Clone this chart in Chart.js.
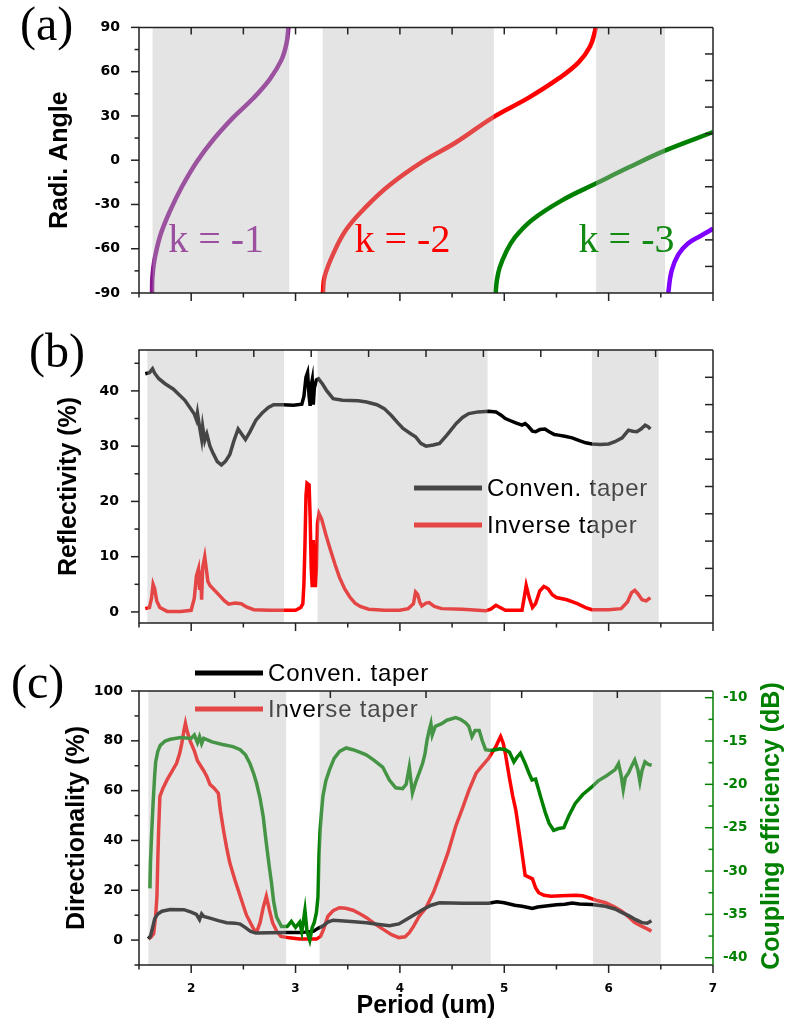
<!DOCTYPE html>
<html>
<head>
<meta charset="utf-8">
<script src="https://cdn.jsdelivr.net/npm/chart.js@4.4.0/dist/chart.umd.min.js"></script>
<style>
  body { margin: 0; background: #fff; }
  #wrap { position: relative; width: 787px; height: 1022px; }
  #wrap canvas { position: absolute; left: 0; top: 0; }
</style>
</head>
<body>
<div id="wrap">
  <canvas id="chartA" width="787" height="1022"></canvas>
  <canvas id="chartB" width="787" height="1022"></canvas>
  <canvas id="chartC" width="787" height="1022"></canvas>
</div>
<script>
// (a) radiation angle vs period, one branch per diffraction order  [period, angle]
const kMinus1 = [[1.625,-90],[1.628,-80],[1.647,-68],[1.704,-51],[1.80,-34],[1.911,-18],[2.054,-1],[2.213,14],[2.404,29],[2.595,42],[2.754,55],[2.865,68],[2.913,79],[2.932,90]];
const kMinus2 = [[3.262,-90],[3.278,-79],[3.358,-64],[3.486,-47],[3.677,-31.5],[3.899,-17],[4.217,-1],[4.535,12],[4.90,29.4],[5.235,42.4],[5.521,55.4],[5.712,66.3],[5.823,77.2],[5.871,88],[5.875,90]];
const kMinus3 = [[4.917,-90],[4.93,-81],[4.955,-73],[5.012,-63],[5.10,-52.5],[5.266,-40.5],[5.553,-27.2],[5.887,-15.5],[6.189,-5],[6.539,6.5],[7.0,19]];
const kMinus4 = [[6.571,-90],[6.603,-75],[6.667,-64],[6.76,-56.5],[6.888,-51],[7.0,-46.5]];

// (b) reflectivity (%)  [period, value]
const reflConven = [[1.56,43.1],[1.60,43.3],[1.63,44.0],[1.65,43.2],[1.69,42.2],[1.75,41.3],[1.83,40.3],[1.94,38.3],[2.03,35.8],[2.05,34.8],[2.06,36.0],[2.08,33.5],[2.10,31.3],[2.11,33.5],[2.13,31.0],[2.15,32.2],[2.18,30.0],[2.21,28.7],[2.25,27.2],[2.29,26.6],[2.33,27.3],[2.37,28.5],[2.41,31.0],[2.45,33.1],[2.49,32.0],[2.52,31.2],[2.56,32.5],[2.62,34.7],[2.68,36.0],[2.74,37.0],[2.79,37.5],[2.88,37.5],[2.98,37.4],[3.06,37.6],[3.08,39.0],[3.10,42.5],[3.115,43.3],[3.13,39.0],[3.14,37.3],[3.15,41.0],[3.16,42.0],[3.17,37.5],[3.18,40.5],[3.20,42.0],[3.22,42.2],[3.26,41.2],[3.30,40.0],[3.36,38.6],[3.45,38.3],[3.6,38.2],[3.68,38.0],[3.78,37.5],[3.85,36.8],[3.92,35.5],[3.98,34.2],[4.03,33.2],[4.10,32.3],[4.15,31.7],[4.20,30.5],[4.25,30.0],[4.32,30.2],[4.38,30.5],[4.45,32.0],[4.54,34.1],[4.60,35.2],[4.66,35.9],[4.75,36.2],[4.85,36.3],[4.92,36.2],[4.97,35.6],[5.01,35.0],[5.06,34.6],[5.11,34.2],[5.17,33.8],[5.20,34.1],[5.23,33.6],[5.27,32.7],[5.30,32.6],[5.34,33.0],[5.39,33.1],[5.43,32.6],[5.48,32.1],[5.52,32.0],[5.58,31.8],[5.65,31.5],[5.72,31.0],[5.78,30.6],[5.84,30.4],[5.92,30.3],[6.0,30.4],[6.06,30.8],[6.13,31.5],[6.19,32.9],[6.23,32.7],[6.27,32.6],[6.31,33.1],[6.35,33.8],[6.38,33.5],[6.40,33.1]];
const reflInverse = [[1.56,0.6],[1.60,0.8],[1.62,2.5],[1.635,5.0],[1.65,4.2],[1.67,2.0],[1.70,0.8],[1.77,0.1],[1.9,0.1],[2.0,0.3],[2.03,2.5],[2.05,6.5],[2.07,7.8],[2.08,4.0],[2.09,7.5],[2.10,2.2],[2.11,8.0],[2.13,10.0],[2.15,7.0],[2.16,5.5],[2.18,4.8],[2.22,4.0],[2.27,3.0],[2.32,2.0],[2.36,1.4],[2.42,1.6],[2.48,1.5],[2.53,0.9],[2.6,0.4],[2.75,0.3],[2.9,0.3],[3.0,0.3],[3.05,0.8],[3.07,1.5],[3.08,5.0],[3.09,12],[3.10,21],[3.11,23.3],[3.13,23.0],[3.14,17],[3.15,8],[3.16,4.5],[3.17,13],[3.18,6],[3.19,4.5],[3.20,8],[3.21,16],[3.225,17.8],[3.25,16.8],[3.29,14],[3.33,11.5],[3.38,8.5],[3.42,6.3],[3.47,4.2],[3.52,2.7],[3.57,1.6],[3.62,1.0],[3.7,0.5],[3.85,0.3],[4.0,0.3],[4.08,0.6],[4.13,1.5],[4.15,3.6],[4.17,3.2],[4.19,1.8],[4.21,1.1],[4.25,1.6],[4.28,1.7],[4.33,1.0],[4.4,0.6],[4.6,0.5],[4.82,0.2],[4.87,0.5],[4.92,1.2],[4.96,0.8],[5.01,0.3],[5.17,0.3],[5.19,2.5],[5.21,4.8],[5.24,2.5],[5.27,0.8],[5.30,1.5],[5.34,3.8],[5.38,4.6],[5.42,4.2],[5.46,3.1],[5.5,2.6],[5.6,2.2],[5.7,1.5],[5.78,0.8],[5.84,0.4],[6.0,0.4],[6.12,0.6],[6.18,1.8],[6.22,3.5],[6.25,3.9],[6.28,3.3],[6.32,2.2],[6.36,2.0],[6.40,2.6]];

// (c) directionality (%) and coupling efficiency (dB)  [period, value]
const dirConven = [[1.59,0.5],[1.61,1.6],[1.63,5],[1.65,8.5],[1.68,10.5],[1.72,11.6],[1.8,12.3],[1.93,12.2],[2.0,11.2],[2.05,10.3],[2.08,8.2],[2.1,10.5],[2.12,9.5],[2.18,8.8],[2.26,7.8],[2.34,7.0],[2.42,6.8],[2.47,6.4],[2.52,5.0],[2.57,3.5],[2.62,2.8],[2.75,2.9],[2.91,3.0],[3.04,3.0],[3.17,3.5],[3.22,4.8],[3.26,5.6],[3.31,7.2],[3.36,8.0],[3.5,7.6],[3.68,7.0],[3.8,6.3],[3.9,5.8],[3.99,6.5],[4.09,9.0],[4.22,12.3],[4.30,14.0],[4.38,15.0],[4.6,14.8],[4.85,14.8],[4.93,15.4],[5.0,15.0],[5.1,14.0],[5.17,13.6],[5.24,13.0],[5.27,12.7],[5.32,13.3],[5.42,13.8],[5.5,14.2],[5.58,14.4],[5.65,14.9],[5.72,14.5],[5.84,14.3],[5.97,13.6],[6.06,12.5],[6.13,11.0],[6.2,9.6],[6.26,8.2],[6.32,7.0],[6.37,6.8],[6.41,7.8]];
const dirInverse = [[1.59,0.5],[1.61,1.0],[1.64,2.5],[1.66,10],[1.672,17.6],[1.68,32],[1.688,44],[1.70,57.7],[1.73,61],[1.77,64.4],[1.82,68],[1.86,71],[1.89,75],[1.91,79],[1.93,84],[1.945,87],[1.96,84],[1.99,80],[2.03,76],[2.06,72],[2.09,70],[2.12,68],[2.15,65.7],[2.18,62.5],[2.22,61],[2.26,59],[2.28,52],[2.31,44],[2.34,37],[2.37,31],[2.42,24],[2.47,17.6],[2.53,10],[2.6,4.3],[2.63,3.5],[2.66,7],[2.69,13],[2.72,17.6],[2.75,12],[2.78,7],[2.82,3.5],[2.86,1.5],[2.94,0.9],[3.04,0.4],[3.2,0.4],[3.24,1.5],[3.27,4.5],[3.31,9.6],[3.36,11.8],[3.42,13.0],[3.48,12.8],[3.55,12.0],[3.62,10.5],[3.68,9.0],[3.76,6.5],[3.84,4.3],[3.92,2.2],[3.99,1.0],[4.05,1.3],[4.09,3.0],[4.13,5.5],[4.185,9.6],[4.25,13],[4.32,19],[4.38,25.6],[4.46,35],[4.535,45.7],[4.6,53],[4.66,60],[4.73,67],[4.79,70],[4.85,73],[4.92,77.7],[4.945,80],[4.965,81.7],[4.99,79],[5.01,75],[5.05,65],[5.08,58],[5.11,52.3],[5.15,41],[5.18,32],[5.2,26],[5.24,25.2],[5.27,24.6],[5.30,21],[5.33,19],[5.38,18],[5.45,17.6],[5.55,17.8],[5.68,18],[5.75,17.8],[5.81,17],[5.88,16],[5.97,15],[6.05,13.5],[6.125,11.6],[6.2,9],[6.25,7],[6.32,5.5],[6.37,4.5],[6.41,3.6]];
const couplingDb = [[1.605,-32],[1.61,-29],[1.62,-26],[1.635,-22.2],[1.65,-19],[1.66,-17.4],[1.68,-16.2],[1.704,-15.5],[1.75,-15.0],[1.8,-14.8],[1.9,-14.6],[2.0,-14.7],[2.03,-14.3],[2.06,-15.2],[2.08,-14.5],[2.1,-15.3],[2.12,-14.7],[2.2,-15.1],[2.3,-15.4],[2.4,-15.65],[2.47,-16.0],[2.52,-16.6],[2.563,-17.6],[2.6,-18.8],[2.627,-19.9],[2.66,-21.6],[2.69,-23.7],[2.72,-26.8],[2.745,-29.2],[2.77,-31.4],[2.79,-33.5],[2.818,-35.3],[2.865,-36.4],[2.92,-36.4],[2.96,-35.8],[3.0,-36.5],[3.04,-35.9],[3.06,-37.0],[3.09,-34.5],[3.11,-37.0],[3.136,-38.0],[3.16,-36.5],[3.18,-35.9],[3.2,-34.8],[3.215,-33.0],[3.225,-28],[3.235,-25.3],[3.25,-23],[3.262,-21.4],[3.29,-19.6],[3.326,-18.3],[3.37,-17.0],[3.422,-16.2],[3.485,-15.8],[3.55,-16.0],[3.62,-16.3],[3.677,-16.6],[3.75,-17.2],[3.835,-18.0],[3.899,-19.5],[3.96,-20.4],[4.026,-20.5],[4.06,-20.0],[4.09,-18.0],[4.11,-20.0],[4.12,-21.0],[4.15,-19.8],[4.19,-18.5],[4.217,-17.6],[4.24,-16.5],[4.26,-14.9],[4.28,-13.8],[4.297,-13.0],[4.31,-14.3],[4.34,-13.3],[4.4,-13.0],[4.45,-12.6],[4.535,-12.3],[4.58,-12.5],[4.63,-12.9],[4.66,-13.3],[4.69,-14.5],[4.72,-13.8],[4.76,-13.8],[4.79,-15.0],[4.821,-16.0],[4.87,-16.1],[4.917,-16.0],[4.96,-15.9],[5.01,-16.0],[5.05,-16.3],[5.092,-17.4],[5.12,-16.9],[5.155,-16.4],[5.2,-17.6],[5.24,-18.8],[5.266,-19.5],[5.3,-19.4],[5.35,-21.5],[5.394,-23.3],[5.43,-24.5],[5.473,-25.3],[5.52,-25.1],[5.57,-25.0],[5.62,-23.6],[5.68,-22.2],[5.75,-21.2],[5.839,-20.3],[5.9,-19.6],[5.98,-19.0],[6.062,-18.3],[6.095,-17.6],[6.12,-19.0],[6.14,-20.6],[6.16,-19.2],[6.19,-18.7],[6.22,-17.9],[6.25,-17.2],[6.28,-18.3],[6.3,-19.7],[6.32,-18.4],[6.348,-17.4],[6.38,-17.7],[6.412,-17.8]];

// shaded period ranges in each panel  [from, to]
const bandsA = [[1.63,2.94],[3.26,4.90],[5.88,6.54]];
const bandsB = [[1.58,2.89],[3.21,4.84],[5.84,6.48]];
const bandsC = [[1.59,2.91],[3.23,4.87],[5.85,6.50]];

const TICK_FONT = { family: "DejaVu Sans", weight: "bold", size: 14 };
const TITLE_FONT = { family: "Liberation Sans", weight: "bold", size: 25 };
const OVERLAY = "rgba(184,184,184,0.38)";
const AXIS = "#222";
const GREEN = "#008000";

const toXY = pts => pts.map(([x, y]) => ({ x, y }));

// one decoration plugin per chart: legend, grey bands over the data, frame, tick marks, labels
const decor = cfg => ({
  id: "decor",
  afterDatasetsDraw(chart) {
    const { ctx, chartArea: a } = chart;
    const xs = chart.scales.x;
    if (cfg.legend) {
      ctx.save();
      ctx.font = "24px 'Liberation Sans'";
      ctx.letterSpacing = "0.8px";
      ctx.textBaseline = "middle";
      cfg.legend.items.forEach((idx, i) => {
        const ds = chart.data.datasets[idx];
        const y = cfg.legend.y + i * cfg.legend.gap;
        ctx.strokeStyle = ds.borderColor;
        ctx.lineWidth = 5;
        ctx.beginPath();
        ctx.moveTo(cfg.legend.x, y);
        ctx.lineTo(cfg.legend.x + 68, y);
        ctx.stroke();
        ctx.fillStyle = "#000";
        ctx.fillText(ds.label, cfg.legend.x + 73, y + 1);
      });
      ctx.restore();
    }
    ctx.save();
    ctx.beginPath();
    ctx.rect(a.left, a.top, a.right - a.left, a.bottom - a.top);
    ctx.clip();
    ctx.fillStyle = OVERLAY;
    cfg.bands.forEach(([from, to]) => {
      const x0 = xs.getPixelForValue(from), x1 = xs.getPixelForValue(to);
      ctx.fillRect(x0, a.top, x1 - x0, a.bottom - a.top + 2);
    });
    ctx.restore();
  },
  afterDraw(chart) {
    const { ctx, chartArea: a, scales } = chart;
    ctx.save();
    ctx.lineWidth = 1.5;
    ctx.strokeStyle = AXIS;
    ctx.beginPath();
    ctx.moveTo(a.right, a.top); ctx.lineTo(a.left, a.top);
    ctx.lineTo(a.left, a.bottom); ctx.lineTo(a.right, a.bottom);
    ctx.stroke();
    ctx.strokeStyle = cfg.rightColor || AXIS;
    ctx.beginPath(); ctx.moveTo(a.right, a.top); ctx.lineTo(a.right, a.bottom); ctx.stroke();

    const mark = (scale, side, color) => {
      ctx.strokeStyle = color;
      scale.ticks.forEach(t => {
        const len = t.label !== "" ? 8 : 4.5;
        const p = scale.getPixelForValue(t.value);
        ctx.beginPath();
        if (side === "bottom") { ctx.moveTo(p, a.bottom); ctx.lineTo(p, a.bottom + len); }
        if (side === "left") { ctx.moveTo(a.left, p); ctx.lineTo(a.left - len, p); }
        if (side === "right") { ctx.moveTo(a.right, p); ctx.lineTo(a.right - len, p); }
        ctx.stroke();
      });
    };
    mark(scales.x, "bottom", AXIS);
    mark(scales.y, "left", AXIS);
    if (scales.y2) mark(scales.y2, "right", GREEN);

    // mirrored inner ticks on the top / right frame
    ctx.strokeStyle = AXIS;
    const xs = scales.x, ys = scales.y;
    for (let k = 1; k < cfg.mirror.top; k++) {
      const p = xs.getPixelForValue(xs.min + (xs.max - xs.min) * k / cfg.mirror.top);
      ctx.beginPath(); ctx.moveTo(p, a.top); ctx.lineTo(p, a.top + 7); ctx.stroke();
    }
    for (let k = 1; k < (cfg.mirror.right || 0); k++) {
      const p = ys.getPixelForValue(ys.min + (ys.max - ys.min) * k / cfg.mirror.right);
      ctx.beginPath(); ctx.moveTo(a.right, p); ctx.lineTo(a.right - 8, p); ctx.stroke();
    }

    ctx.textBaseline = "alphabetic";
    ctx.textAlign = "left";
    (cfg.notes || []).forEach(n => {
      ctx.font = "40px 'Liberation Serif'";
      ctx.fillStyle = n.color;
      ctx.fillText(n.text, xs.getPixelForValue(n.x), ys.getPixelForValue(n.y));
    });
    ctx.font = "48px 'Liberation Serif'";
    ctx.fillStyle = "#000";
    ctx.fillText(cfg.panel.text, cfg.panel.x, cfg.panel.y);

    if (cfg.rightTitle) {
      ctx.translate(a.right + 59, (a.top + a.bottom) / 2 - 2);
      ctx.rotate(-Math.PI / 2);
      ctx.textAlign = "center";
      ctx.textBaseline = "middle";
      ctx.font = "bold 25px 'Liberation Sans'";
      ctx.fillStyle = GREEN;
      ctx.fillText(cfg.rightTitle, 0, 0);
    }
    ctx.restore();
  }
});

const xAxis = (height, labels) => ({
  type: "linear", min: 1.5, max: 7,
  grid: { display: false, drawTicks: false },
  border: { display: false },
  ticks: {
    stepSize: 0.5, autoSkip: false, maxRotation: 0, display: labels, padding: 17,
    font: { family: "DejaVu Sans", weight: "bold", size: 12 }, color: "#000",
    callback: v => Number.isInteger(v) ? v : ""
  },
  title: { display: labels, text: "Period (um)", font: TITLE_FONT, color: "#000", padding: { top: 0, bottom: 1 } },
  afterFit: s => { s.height = height; }
});

const yAxis = (min, max, step, every, title, titlePad, labelPad) => ({
  type: "linear", min, max,
  grid: { display: false, drawTicks: false },
  border: { display: false },
  ticks: {
    stepSize: step, includeBounds: false, padding: labelPad, font: TICK_FONT, color: "#000",
    callback: v => (v % every === 0 ? v : "")
  },
  title: { display: true, text: title, font: TITLE_FONT, color: "#000", padding: { top: titlePad, bottom: 0 } },
  afterFit: s => { s.width = 139; }
});

const common = {
  responsive: false, animation: false, events: [],
  elements: { point: { radius: 0 }, line: { fill: false } },
};

// (a)
new Chart(document.getElementById("chartA"), {
  type: "line",
  data: { datasets: [
    { label: "k = -1", data: toXY(kMinus1), borderColor: "#8a1590", borderWidth: 4.5, tension: 0.4 },
    { label: "k = -2", data: toXY(kMinus2), borderColor: "#ff0000", borderWidth: 4.5, tension: 0.4 },
    { label: "k = -3", data: toXY(kMinus3), borderColor: GREEN, borderWidth: 4.5, tension: 0.4 },
    { label: "k = -4", data: toXY(kMinus4), borderColor: "#8000ff", borderWidth: 4.5, tension: 0.4 }
  ]},
  options: {
    ...common,
    layout: { padding: { left: 0, top: 17, right: 74, bottom: 717 } },
    scales: { x: xAxis(12, false), y: yAxis(-90, 90, 15, 30, "Radi. Angle", 45, 19) },
    plugins: { legend: { display: false }, tooltip: { enabled: false } }
  },
  plugins: [decor({
    bands: bandsA, mirror: { top: 11, right: 10 },
    panel: { text: "(a)", x: 20, y: 40 },
    notes: [
      { text: "k = -1", x: 1.78, y: -62, color: "#9b4f9f" },
      { text: "k = -2", x: 3.565, y: -62, color: "#ff0000" },
      { text: "k = -3", x: 5.712, y: -62, color: "#138a13" }
    ]
  })]
});

// (b)
new Chart(document.getElementById("chartB"), {
  type: "line",
  data: { datasets: [
    { label: "Conven. taper", data: toXY(reflConven), borderColor: "#000000", borderWidth: 3.5 },
    { label: "Inverse taper", data: toXY(reflInverse), borderColor: "#ff0000", borderWidth: 3.5 }
  ]},
  options: {
    ...common,
    layout: { padding: { left: 0, top: 350, right: 74, bottom: 387 } },
    scales: { x: xAxis(12, false), y: yAxis(-2, 47.4, 5, 10, "Reflectivity (%)", 54, 20) },
    plugins: { legend: { display: false }, tooltip: { enabled: false } }
  },
  plugins: [decor({
    bands: bandsB, mirror: { top: 10, right: 10 },
    panel: { text: "(b)", x: 29, y: 367 },
    legend: { x: 414, y: 488, gap: 37, items: [0, 1] }
  })]
});

// (c)
new Chart(document.getElementById("chartC"), {
  type: "line",
  data: { datasets: [
    { label: "Conven. taper", data: toXY(dirConven), borderColor: "#000000", borderWidth: 3.5, order: 1 },
    { label: "Inverse taper", data: toXY(dirInverse), borderColor: "#ff0000", borderWidth: 3.5, order: 2 },
    { label: "Coupling efficiency", data: toXY(couplingDb), borderColor: GREEN, borderWidth: 3.5, yAxisID: "y2", order: 0 }
  ]},
  options: {
    ...common,
    layout: { padding: { left: 0, top: 691, right: 0, bottom: 0 } },
    scales: {
      x: xAxis(57, true),
      y: yAxis(-10, 100, 10, 20, "Directionality (%)", 62, 16),
      y2: {
        type: "linear", position: "right", min: -40.84, max: -9.23,
        grid: { display: false, drawTicks: false },
        border: { display: false },
        ticks: {
          stepSize: 2.5, includeBounds: false, padding: 10,
          font: { family: "DejaVu Sans", weight: "bold", size: 13.5 }, color: GREEN,
          callback: v => (v % 5 === 0 ? v : "")
        },
        afterFit: s => { s.width = 74; }
      }
    },
    plugins: { legend: { display: false }, tooltip: { enabled: false } }
  },
  plugins: [decor({
    bands: bandsC, mirror: { top: 6 }, rightColor: GREEN,
    panel: { text: "(c)", x: 11, y: 698 },
    legend: { x: 195, y: 673, gap: 36, items: [0, 1] },
    rightTitle: "Coupling efficiency (dB)"
  })]
});
</script>
</body>
</html>
